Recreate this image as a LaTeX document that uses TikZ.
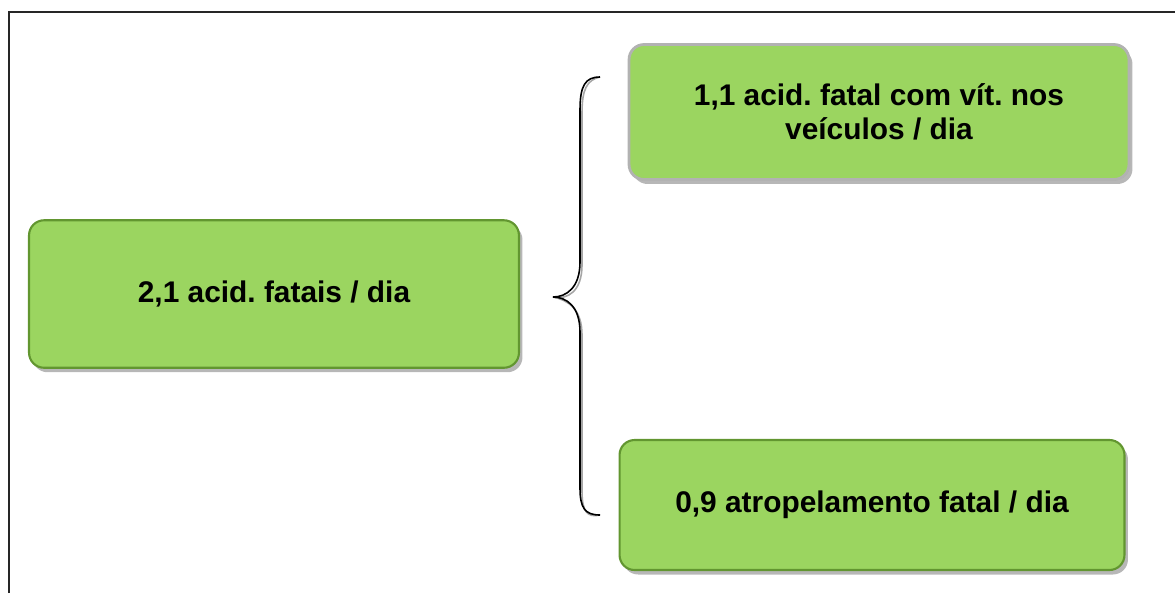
\documentclass[tikz,border=0pt]{standalone}
\usepackage{fontspec}
\setmainfont{Liberation Sans}
\usetikzlibrary{shadows}
\frenchspacing

\definecolor{boxgreen}{RGB}{155,213,96}
\definecolor{boxedge}{RGB}{98,150,48}

\tikzset{
  greenbox/.style={rectangle, rounded corners=0.3cm, fill=boxgreen, draw=boxedge, line width=1.2pt,
    drop shadow={shadow xshift=0.07cm, shadow yshift=-0.09cm, opacity=0.4, fill=black!70},
    align=center, font=\fontsize{17}{19.5}\selectfont\bfseries, inner sep=0pt},
  brace/.style={line width=0.9pt}
}

\begin{document}
\begin{tikzpicture}[x=0.02cm, y=-0.02cm]
        \useasboundingbox (0,0) rectangle (1175,593);

        % frame
        \draw[line width=1.2pt, black!85] (9,593) -- (9,12) -- (1175,12);

        \node[greenbox, minimum width=9.8cm, minimum height=2.95cm] (total) at (274,294) {2,1 acid. fatais / dia};
        \node[greenbox, draw=black!30, line width=1.6pt, minimum width=10.0cm, minimum height=2.7cm] (veic) at (879,112)
            {1,1 acid. fatal com vít. nos\\veículos / dia};
        \node[greenbox, minimum width=10.1cm, minimum height=2.6cm] (atrop) at (872,505) {0,9 atropelamento fatal / dia};

        \coordinate (tip) at (553,297);
        \coordinate (top) at (600,77);
        \coordinate (bot) at (600,515);

        % brace, with its grey shadow
        \draw[brace, black!35, shift={(2,3)}] (top) .. controls (585,77) and (580,86) .. (580,110) -- (580,262)
            .. controls (580,288) and (566,297) .. (tip) .. controls (566,297) and (580,306) .. (580,332)
            -- (580,488) .. controls (580,508) and (585,515) .. (bot);
        \draw[brace] (top) .. controls (585,77) and (580,86) .. (580,110) -- (580,262)
            .. controls (580,288) and (566,297) .. (tip) .. controls (566,297) and (580,306) .. (580,332)
            -- (580,488) .. controls (580,508) and (585,515) .. (bot);
\end{tikzpicture}
\end{document}
